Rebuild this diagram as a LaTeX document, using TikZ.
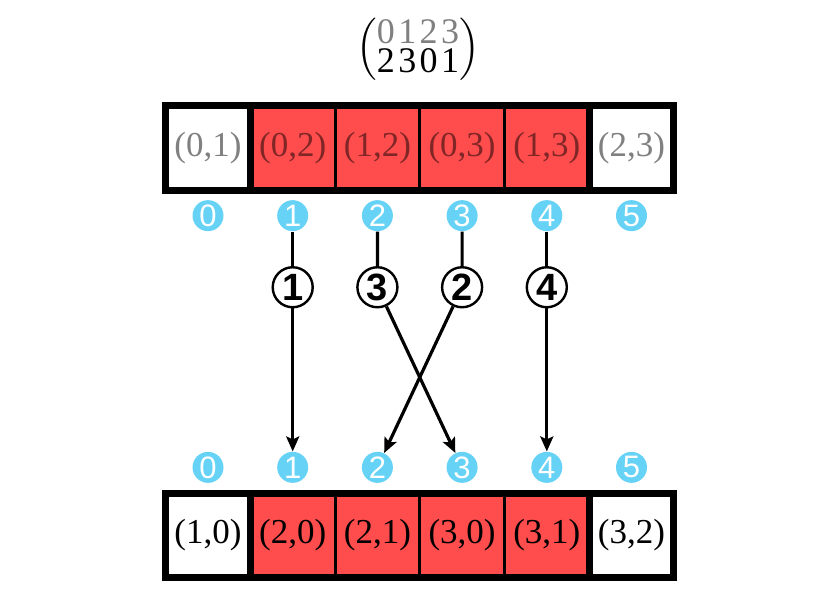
\documentclass[tikz,border=0pt]{standalone}
\usepackage{amsmath}
\usepackage{fontspec}
\setmainfont{Liberation Serif}
\newfontfamily\sansfont{Liberation Sans}
\usetikzlibrary{positioning,arrows.meta}
\definecolor{pairred}{RGB}{255,76,76}
\definecolor{idxblue}{RGB}{102,210,245}
\definecolor{fadegrey}{RGB}{128,128,128}
\definecolor{fadered}{RGB}{128,38,38}

\begin{document}
\begin{tikzpicture}[x=0.5pt, y=-0.5pt, node distance=0pt,
		cell/.style={rectangle, draw, line width=1.5pt, fill=white, minimum width=42.35pt, minimum height=42.25pt, inner sep=0pt, outer sep=0pt, font=\fontsize{17.5}{20}\selectfont},
		hit/.style={cell, fill=pairred},
		frame/.style={line width=3.5pt},
		idx/.style={circle, fill=idxblue, text=white, minimum size=15.5pt, inner sep=0pt, font=\sansfont\fontsize{15.5}{15.5}\selectfont},
		stepnum/.style={circle, draw, fill=white, line width=1.2pt, minimum size=20pt, inner sep=0pt, font=\sansfont\bfseries\fontsize{19}{19}\selectfont},
		arrow/.style={-{Stealth[length=7.5pt,width=6.5pt,inset=1.5pt]}, line width=1.6pt}]

		\useasboundingbox (0,0) rectangle (840,599);

		\node [font=\fontsize{18}{14}\selectfont] (perm) at (418,49) {$\renewcommand{\arraystretch}{0.6}\begin{pmatrix}\mbox{\rmfamily\textcolor{fadegrey}{0\kern1.7pt1\kern1.7pt2\kern1.7pt3}}\\ \mbox{\rmfamily 2\kern1.7pt3\kern1.7pt0\kern1.7pt1}\end{pmatrix}$};

		% pairs before
		\node [cell, text=fadegrey] (p01) at (208,148) {(0,1)};
		\node [hit, text=fadered, right=of p01] (p02) {(0,2)};
		\node [hit, text=fadered, right=of p02] (p12) {(1,2)};
		\node [hit, text=fadered, right=of p12] (p03) {(0,3)};
		\node [hit, text=fadered, right=of p03] (p13) {(1,3)};
		\node [cell, text=fadegrey, right=of p13] (p23) {(2,3)};
		\draw [frame] (p01.north west) rectangle (p23.south east);
		\draw [frame] (p01.north east) -- (p01.south east);
		\draw [frame] (p23.north west) -- (p23.south west);

		% pairs after
		\node [cell] (q10) at (208,535.5) {(1,0)};
		\node [hit, right=of q10] (q20) {(2,0)};
		\node [hit, right=of q20] (q21) {(2,1)};
		\node [hit, right=of q21] (q30) {(3,0)};
		\node [hit, right=of q30] (q31) {(3,1)};
		\node [cell, right=of q31] (q32) {(3,2)};
		\draw [frame] (q10.north west) rectangle (q32.south east);
		\draw [frame] (q10.north east) -- (q10.south east);
		\draw [frame] (q32.north west) -- (q32.south west);

		% indices
		\node [idx, below=4.75pt of p01] (u0) {0};
		\node [idx, below=4.75pt of p02] (u1) {1};
		\node [idx, below=4.75pt of p12] (u2) {2};
		\node [idx, below=4.75pt of p03] (u3) {3};
		\node [idx, below=4.75pt of p13] (u4) {4};
		\node [idx, below=4.75pt of p23] (u5) {5};
		\node [idx, above=5pt of q10] (v0) {0};
		\node [idx, above=5pt of q20] (v1) {1};
		\node [idx, above=5pt of q21] (v2) {2};
		\node [idx, above=5pt of q30] (v3) {3};
		\node [idx, above=5pt of q31] (v4) {4};
		\node [idx, above=5pt of q32] (v5) {5};

		% order of the moves
		\node [stepnum, below=17.25pt of u1] (s1) {1};
		\node [stepnum, below=17.25pt of u2] (s3) {3};
		\node [stepnum, below=17.25pt of u3] (s2) {2};
		\node [stepnum, below=17.25pt of u4] (s4) {4};

		\draw [arrow] (u1) -- (s1) -- (v1);
		\draw [arrow] (u2) -- (s3) -- (v3);
		\draw [arrow] (u3) -- (s2) -- (v2);
		\draw [arrow] (u4) -- (s4) -- (v4);

	\end{tikzpicture}
\end{document}
